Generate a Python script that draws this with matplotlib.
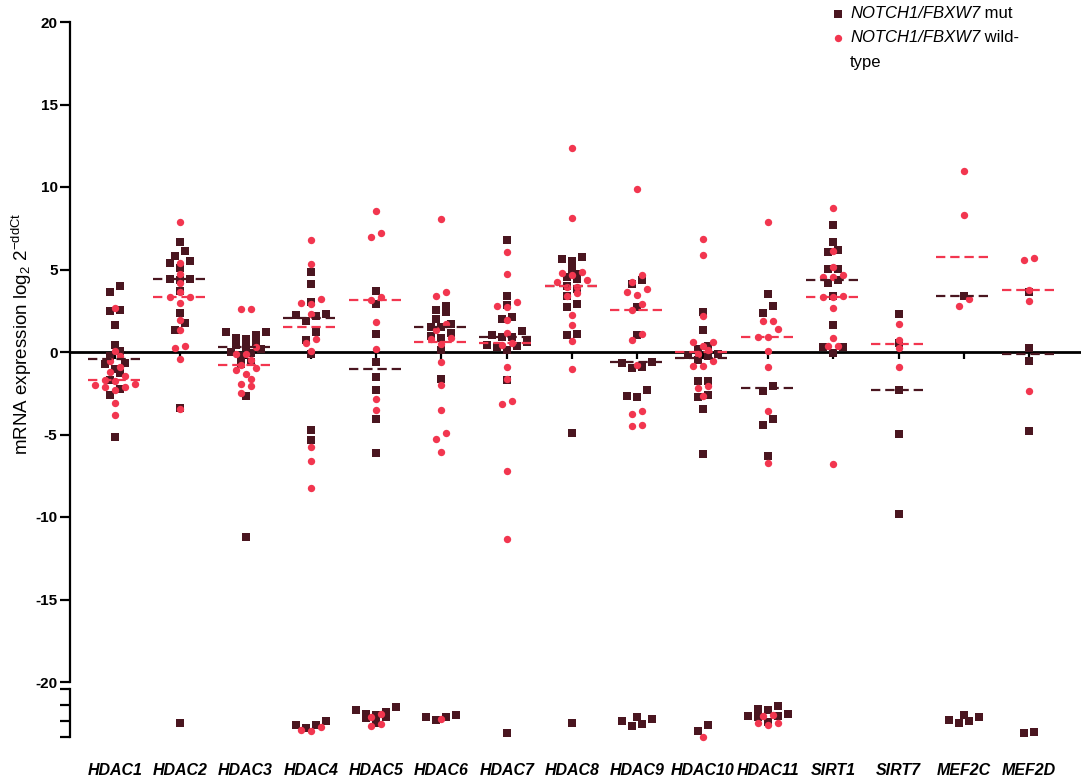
import numpy as np
import matplotlib
matplotlib.use('Agg')
import matplotlib.pyplot as plt
from matplotlib.lines import Line2D

plt.rcParams['font.family'] = ['Liberation Sans', 'DejaVu Sans']
plt.rcParams['axes.unicode_minus'] = False
plt.rcParams['mathtext.fontset'] = 'custom'
plt.rcParams['mathtext.rm'] = 'Liberation Sans'
plt.rcParams['mathtext.it'] = 'Liberation Sans:italic'
plt.rcParams['mathtext.bf'] = 'Liberation Sans:bold'

genes = ['HDAC1', 'HDAC2', 'HDAC3', 'HDAC4', 'HDAC5', 'HDAC6', 'HDAC7', 'HDAC8',
         'HDAC9', 'HDAC10', 'HDAC11', 'SIRT1', 'SIRT7', 'MEF2C', 'MEF2D']

# log2 2^-ddCt, NOTCH1/FBXW7 mutated samples
mut_vals = [
    [4.0, 3.62, 2.53, 2.46, 1.66, 0.42, 0.08, -0.24, -0.65, -0.73, -1.01, -1.29, -1.70, -2.24, -2.63, -5.13],
    [6.69, 6.12, 5.84, 5.54, 5.41, 5.11, 4.40, 4.38, 4.40, 3.70, 2.38, 1.78, 1.31, -3.37],
    [1.19, 1.01, 0.81, 0.85, 1.19, 0.44, 0.55, 0.18, 0.32, 0.0, -0.04, -0.24, -0.59, -0.73, -2.67, -11.19],
    [4.85, 4.12, 3.05, 2.28, 2.20, 2.24, 1.90, 1.19, 0.71, -0.10, -4.73, -5.35],
    [3.70, 2.93, 1.09, -0.59, -1.52, -2.28, -4.06, -6.14],
    [2.77, 2.55, 2.42, 1.98, 1.70, 1.54, 1.49, 1.17, 0.97, 0.87, 0.14, -1.62],
    [6.77, 3.37, 2.87, 2.14, 2.02, 1.29, 1.05, 0.89, 0.89, 0.59, 0.40, 0.36, 0.28, 0.12, -1.70],
    [5.78, 5.62, 5.54, 5.05, 4.75, 4.55, 4.44, 4.0, 3.84, 3.39, 2.91, 2.71, 1.09, 1.05, -4.93],
    [4.36, 4.10, 2.71, 1.05, -0.63, -0.65, -0.93, -0.99, -2.28, -2.67, -2.71],
    [2.44, 1.35, 0.36, 0.20, -0.12, -0.20, -0.26, -0.48, -1.74, -1.74, -2.63, -2.75, -3.43, -6.20],
    [3.49, 2.79, 2.36, -2.04, -2.36, -4.08, -4.40, -6.28],
    [7.68, 6.65, 6.16, 6.06, 5.05, 5.03, 4.38, 4.18, 3.41, 1.62, 0.30, 0.30, -0.04],
    [2.32, 0.53, -2.32, -4.97, -9.80],
    [3.39],
    [3.62, 0.22, -0.55, -4.77],
]

# NOTCH1/FBXW7 wild-type samples
wt_vals = [
    [2.65, 0.08, -0.26, -0.57, -0.89, -1.23, -1.43, -1.68, -1.75, -1.94, -2.0, -2.10, -2.10, -2.32, -3.11, -3.82],
    [7.88, 5.37, 4.75, 4.20, 3.66, 3.33, 3.31, 2.97, 1.94, 1.33, 0.36, 0.22, -0.44, -3.43],
    [2.63, 2.59, 0.32, -0.12, -0.12, -0.48, -0.81, -0.95, -1.09, -1.31, -1.62, -1.96, -2.06, -2.46],
    [6.79, 5.35, 3.19, 2.99, 2.89, 2.30, 0.79, 0.53, 0.04, -5.74, -6.61, -8.26],
    [8.53, 7.19, 6.95, 3.31, 3.15, 1.82, 0.16, -2.83, -3.52],
    [8.06, 3.64, 3.41, 1.72, 1.33, 0.83, 0.79, 0.48, -0.59, -1.98, -3.54, -4.93, -5.27, -6.08],
    [6.04, 4.73, 3.01, 2.77, 2.73, 1.92, 1.15, 0.57, 0.44, -0.93, -1.62, -2.95, -3.15, -7.21, -11.35],
    [12.36, 8.14, 4.83, 4.81, 4.67, 4.36, 4.24, 3.92, 3.92, 3.56, 3.41, 2.26, 1.66, 0.65, -1.03],
    [9.88, 4.65, 4.24, 3.82, 3.66, 3.45, 2.93, 2.53, 1.07, 0.73, -0.81, -3.58, -3.76, -4.44, -4.51],
    [6.85, 5.86, 2.20, 0.63, 0.59, 0.36, 0.12, -0.14, -0.57, -0.87, -0.87, -2.04, -2.16, -2.69],
    [7.88, 1.90, 1.90, 1.39, 0.93, 0.93, 0.08, -0.93, -3.56, -6.75],
    [8.75, 6.12, 5.15, 4.69, 4.55, 4.53, 3.39, 3.35, 3.31, 2.69, 0.87, 0.36, 0.36, -6.81],
    [1.68, 0.75, 0.26, -0.89],
    [10.95, 8.28, 3.19, 2.77],
    [5.72, 5.60, 3.76, 3.09, -2.36],
]

# samples below the axis break
mut_low = [
    [], [-23.1], [], [-22.98, -23.25, -23.42, -23.25],
    [-22.13, -22.3, -22.45, -22.55, -22.6, -22.77, -22.8, -23.1],
    [-22.6, -22.72, -22.94, -22.72], [-23.72], [-23.13],
    [-22.72, -23.02, -23.34, -23.19, -22.9], [-23.28, -23.64],
    [-22.06, -22.34, -22.55, -22.23, -22.66, -22.72, -22.7, -23.04],
    [], [], [-22.62, -22.96, -23.15, -23.02, -22.72], [-23.72, -23.66],
]
wt_low = [
    [], [], [], [-23.6, -23.55, -23.38], [-22.77, -22.55, -23.34, -23.2],
    [-22.85], [], [], [], [-24.0], [-22.62, -22.66, -23.1, -23.28, -23.15],
    [], [], [], [],
]

mut_median = [-0.44, 4.40, 0.28, 2.04, -1.05, 1.52, 0.89, 4.0, -0.63, -0.38, -2.18, 4.38, -2.32, 3.41, -0.14]
wt_median = [-1.70, 3.31, -0.81, 1.54, 3.15, 0.63, 0.57, 3.97, 2.53, 0.0, 0.93, 3.35, 0.51, 5.76, 3.76]

MUT_COL = '#4a1620'
WT_COL = '#f2364f'

W, H = 1081, 780
X0, X1 = -0.69, 14.78


def swarm(vals, px_y, row_h=8.0, step=10.0):
    '''x offsets (pixels): values are binned in rows, each row spread from the centre out'''
    vals = np.asarray(vals, dtype=float)
    offs = np.zeros(len(vals))
    rows = []
    cur = []
    start = None
    for i in np.argsort(vals):
        y = vals[i] * px_y
        if cur and y - start < row_h:
            cur.append(i)
        else:
            if cur:
                rows.append(cur)
            cur = [i]
            start = y
    if cur:
        rows.append(cur)
    for row in rows:
        n = len(row)
        slots = sorted([(k - (n - 1) / 2.0) * step for k in range(n)], key=abs)
        for i, s in zip(row, slots):
            offs[i] = s
    return offs


fig = plt.figure(figsize=(W / 100, H / 100), dpi=100)
ax = fig.add_axes([70 / W, 1 - 682 / H, (1080 - 70) / W, (682 - 22) / H])
ax_lo = fig.add_axes([70 / W, 1 - 737 / H, (1080 - 70) / W, (737 - 689) / H])

ax.set_xlim(X0, X1)
ax.set_ylim(-20, 20)
ax_lo.set_xlim(X0, X1)
ax_lo.set_ylim(-24, -21)

px_x = (1080 - 70) / (X1 - X0)
px_main = 660 / 40.0
px_lo = 48 / 3.0


def draw_group(a, i, vals, px_y, marker, ms, color, z):
    if len(vals) == 0:
        return
    xs = i + swarm(vals, px_y) / px_x
    a.plot(xs, vals, linestyle='none', marker=marker, ms=ms, color=color,
           markeredgewidth=0, zorder=z, clip_on=False)


for i in range(len(genes)):
    draw_group(ax, i, mut_vals[i], px_main, 's', 5.5, MUT_COL, 3)
    draw_group(ax, i, wt_vals[i], px_main, 'o', 5.3, WT_COL, 4)
    draw_group(ax_lo, i, mut_low[i], px_lo, 's', 5.5, MUT_COL, 3)
    draw_group(ax_lo, i, wt_low[i], px_lo, 'o', 5.3, WT_COL, 4)

# median lines
idx = np.arange(len(genes))
ax.hlines(mut_median, idx - 0.42, idx + 0.42, colors=MUT_COL, linewidth=1.6,
          linestyles=(0, (4.2, 2.2)), zorder=5)
ax.hlines(wt_median, idx - 0.42, idx + 0.42, colors=WT_COL, linewidth=1.6,
          linestyles=(0, (4.2, 2.2)), zorder=5)

# axis at zero with a tick for each gene
for s in ['top', 'right']:
    ax.spines[s].set_visible(False)
ax.spines['bottom'].set_position(('data', 0))
ax.spines['bottom'].set_linewidth(2)
ax.spines['bottom'].set_zorder(2)
ax.spines['left'].set_linewidth(1.6)
ax.set_xticks(idx)
ax.tick_params(axis='x', direction='out', length=5, width=1.6, labelbottom=False)
ax.set_yticks(np.arange(-20, 21, 5))
ax.tick_params(axis='y', direction='out', length=7, width=1.6, pad=2)
for lab in ax.get_yticklabels():
    lab.set_fontweight('bold')
    lab.set_fontsize(11)

for s in ['top', 'right', 'bottom']:
    ax_lo.spines[s].set_visible(False)
ax_lo.spines['left'].set_linewidth(1.6)
ax_lo.set_yticks([-24, -23, -22, -21])
ax_lo.set_yticklabels([])
ax_lo.tick_params(axis='y', direction='out', length=7, width=1.6)
ax_lo.set_xticks(idx)
ax_lo.set_xticklabels(genes, fontsize=11.5, fontweight='bold', style='italic')
ax_lo.tick_params(axis='x', length=0, pad=19)
ax_lo.patch.set_alpha(0)

fig.text(22 / W, 1 - 334 / H, r'mRNA expression log$_2$ 2$^{\mathrm{-ddCt}}$',
         rotation=90, ha='center', va='center', fontsize=13.5)

# legend: marker, italic gene names, then plain text after them
fig.add_artist(Line2D([838 / W], [1 - 14 / H], marker='s', ms=5.5, color=MUT_COL,
                      markeredgewidth=0, transform=fig.transFigure))
fig.add_artist(Line2D([838 / W], [1 - 38 / H], marker='o', ms=5.3, color=WT_COL,
                      markeredgewidth=0, transform=fig.transFigure))
renderer = fig.canvas.get_renderer()
for ypx, tail in [(14, ' mut'), (38, ' wild-')]:
    t = fig.text(850 / W, 1 - ypx / H, 'NOTCH1/FBXW7', style='italic',
                 ha='left', va='center', fontsize=12)
    x1 = t.get_window_extent(renderer).x1
    fig.text(x1 / W, 1 - ypx / H, tail, ha='left', va='center', fontsize=12)
fig.text(850 / W, 1 - 62 / H, 'type', ha='left', va='center', fontsize=12)

fig.savefig('out.png', dpi=100)
